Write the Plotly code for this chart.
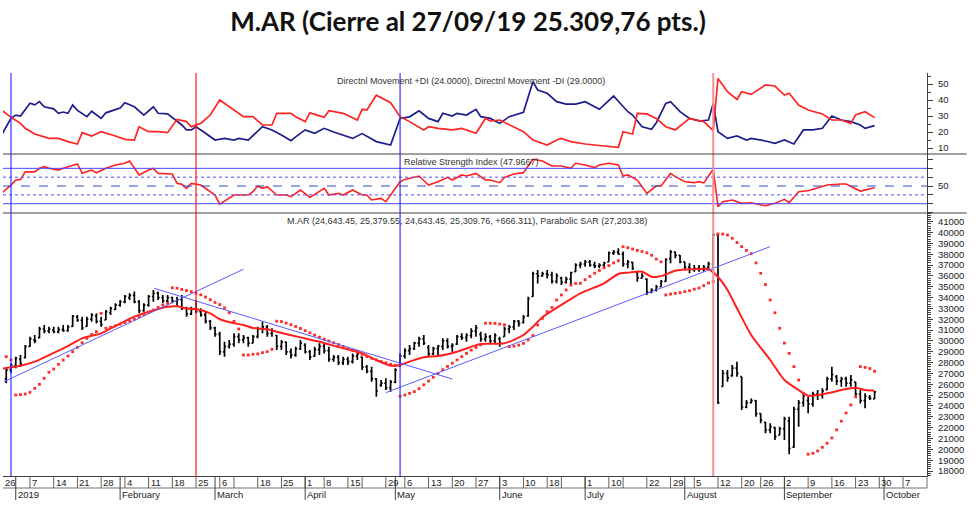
import plotly.graph_objects as go

# ---------------- DATA ----------------
# trading-day index 0 = 26 Dec 2018 ... 184 = 27 Sep 2019
open_ = [26800,26500,27300,27700,28300,28450,29500,30100,30300,31100,30900,31000,30850,31050,30950,31350,32200,31900,31350,32000,
         32300,31800,31950,32600,32900,33300,33600,34000,34200,33600,32800,33300,34100,34400,34000,33700,34000,33700,33800,33000,
         32500,32900,32700,32400,31800,31200,30600,29000,29500,29700,30400,30100,30300,29800,30400,31100,31300,30700,30500,29500,
         29900,29000,28700,29300,29600,29000,28600,29200,29500,29100,28300,28500,28000,28300,28100,28600,28500,27600,27200,26500,
         25900,26100,25700,26200,27700,28600,29100,29300,29800,30200,29400,28800,29300,29500,30000,29500,29700,30400,30300,30500,
         30900,30600,30200,30400,30000,30200,30400,31100,31300,31800,31700,32300,34100,36200,36000,36200,36100,35500,35800,35400,
         35700,36400,37000,37100,37300,37000,36900,37000,37300,38100,38200,38000,37100,37250,36300,35800,35700,34500,34700,35000,
         35500,37600,38200,37900,37300,36800,36600,36700,36600,36800,37100,39800,25800,27000,26800,27500,26700,23900,24300,24500,
         23300,22500,21800,22000,21300,21900,22600,20200,23700,24300,24500,24200,25100,25000,25500,26500,26700,26300,26500,26100,
         26200,25100,24500,24800,24643.45]
high = [27200,27470,27935,28550,28700,29620,30390,30550,31310,31470,31310,31310,31300,31470,31470,32390,32390,32240,32240,32550,
        32550,32240,32850,33160,33470,33780,34240,34390,34550,33780,33470,34240,34700,34550,34240,34240,34080,34080,34240,33160,
        33160,33780,33010,32700,31930,31310,30850,29930,30080,30700,30700,30550,30390,30550,31310,31780,31470,31160,30550,30080,
        29930,29310,29470,30080,29780,29160,29470,29780,29780,29470,28700,28700,28550,28550,28850,29160,28550,27780,27620,26550,
        26390,26550,26390,27470,28850,29320,29620,29930,30390,30550,29620,29470,29620,30240,30240,29780,30550,30700,30700,31160,
        31470,30850,30700,30550,30700,30390,31310,31470,31930,31930,32390,34080,36390,36540,36390,36540,36390,36240,35930,35930,
        36390,37160,37310,37470,37470,37310,37160,37310,38240,38390,38540,38240,37470,37310,36390,36240,35780,34850,35160,35620,
        37620,38390,38240,37930,37310,37160,37010,37010,37010,37310,39930,39930,27320,27320,27780,28090,26700,24550,24700,24550,
        23320,22550,22400,22090,22090,23010,23010,23930,24550,25170,24860,25320,25470,25630,26700,27620,26860,26700,26700,26860,
        26240,25470,25170,25010,25379.55]
low = [26400,26090,27010,27470,27630,28400,29470,29780,30240,30700,30700,30700,30700,30850,30850,31310,31780,31010,31310,31780,
       31620,31310,31930,32390,32850,33160,33470,33780,33470,32550,32700,33160,33620,33780,33470,33470,33470,33160,32850,32240,
       32390,32550,32240,31620,31010,30390,28700,28550,29310,29470,29780,29780,29470,29780,30240,30700,30390,30390,29160,29160,
       28700,28390,28550,29160,28850,28240,28550,28700,28850,28080,28080,27780,27780,27780,27930,28240,27320,27010,26240,24860,
       25780,25470,25320,26090,27620,28390,28700,29160,29470,29620,28550,28700,28700,29160,29310,29010,29620,30080,29930,30240,
       30390,29930,29930,29780,29780,29470,30390,30700,31010,31310,31620,32240,34080,35310,35930,35770,35310,35310,35160,35310,
       35160,36390,36700,36850,36850,36700,36700,36700,37310,37930,37930,36850,36700,36540,35470,35780,34240,34390,34550,35010,
       35470,37160,37620,37160,36550,36240,36390,36390,36390,36550,36550,24180,25780,26240,26700,26700,23630,23780,24240,23010,
       22400,21480,21480,20860,21320,20860,19550,20130,22090,23940,23320,23940,24550,24700,25470,26240,25940,25780,25780,25780,
       24950,24240,23780,24550,24643.45]
close = [26600,27300,27800,28400,27900,29500,30200,30000,31100,30900,31100,30850,31050,30950,31300,32300,31900,31200,32000,32400,
         31800,31500,32700,33000,33300,33600,34100,34200,33600,32800,33300,34100,34400,34000,33700,34000,33700,33800,33000,32500,
         32900,32700,32400,31800,31200,30600,29000,29500,29700,30400,30100,30300,29800,30400,31100,31300,30700,30900,29500,29900,
         29000,28700,29300,29800,29000,28500,29200,29500,29100,28300,28500,28000,28300,28100,28600,28800,27600,27200,26500,25400,
         26100,25700,26200,27300,28600,29100,29300,29800,30200,29800,28800,29300,29500,30000,29500,29600,30400,30300,30500,30900,
         31200,30200,30400,30000,30500,29800,31100,31300,31800,31600,32200,33900,36200,36000,36200,36100,35500,36000,35400,35700,
         36300,37000,37100,37300,37000,36900,37000,37200,38100,38200,38000,37100,37300,36700,35800,36000,34500,34700,35000,35500,
         37500,38200,37900,37300,36800,36600,36700,36600,36800,37100,39800,24300,27000,26600,27500,27000,23900,24300,24500,23300,
         22700,21800,22100,21200,21900,22800,20100,23700,24300,24900,24200,25100,25000,25400,26500,26900,26300,26500,26100,26400,
         25100,24500,24900,24700,25309.76]

sar = [28700,28550,28240,25010,25050,25100,25260,25630,26000,26550,27110,27410,27840,28240,28610,29010,29410,29840,30240,30600,
       30850,32550,31170,31260,31400,31550,31700,31850,32000,32250,32450,32650,32850,33100,33300,33470,34900,34860,34750,34650,
       34550,34400,34250,34050,33800,33550,33350,33050,32600,31800,31100,28700,28700,28770,28800,28920,29010,29230,31820,31790,
       31650,31500,31330,31150,30950,30750,30550,30350,30170,29990,29830,29660,29480,29300,29130,28960,28760,28560,28400,28250,
       28100,27980,27850,27750,24900,25010,25170,25330,25600,25950,26300,26650,27000,27350,27650,27950,28250,28550,28850,29150,
       29400,29650,31630,31630,31620,31560,31480,29470,29520,29620,29780,30090,30500,31470,32090,32700,33090,33780,34240,34700,
       35150,35300,35320,35650,35950,36250,36500,36750,36950,37200,37400,38690,38600,38480,38350,38250,38130,37900,37550,37300,
       34240,34330,34390,34450,34550,34640,34780,34880,35100,35350,35470,39870,39860,39770,39470,39080,38700,38350,38050,37200,
       36240,35200,33780,32600,31170,29800,28850,27630,26400,25170,19550,19640,19850,20190,20560,21050,21800,22600,23350,24100,
       24850,27630,27560,27450,27203.38]

ma_idx = [0,4,7,10,14,17,21,24,28,31,35,37,39,41,44,46,49,51,53,56,58,63,67,72,76,79,82,84,86,89,92,96,101,106,110,112,114,
          118,122,127,130,132,135,137,139,142,146,149,151,153,155,158,162,165,168,170,174,177,180,182,184]
ma_val = [27450,27720,28090,28700,29530,30240,30700,31380,32240,32700,33160,33200,33000,32950,32550,32000,31630,31470,31200,
          31070,30850,30330,29930,29320,28860,28240,27720,27780,28090,28490,28610,29010,29720,29780,30550,31310,32180,33320,
          34390,35320,36180,36300,36390,35930,35980,36480,36610,36610,35900,34700,33010,30550,28240,26400,25470,24950,25170,
          25470,25690,25470,25410]

pdi_idx = [0,2,3,4,6,7,8,9,11,12,13,14,15,16,18,19,21,22,24,25,26,28,30,32,33,35,38,39,40,41,43,45,47,49,50,52,55,57,59,61,
           62,64,66,68,70,72,74,76,79,82,84,86,88,90,92,93,95,96,98,100,101,103,105,107,110,112,113,115,117,119,121,123,126,
           129,132,133,135,137,138,140,141,143,145,147,149,150,151,153,155,157,158,161,163,165,167,169,171,173,175,177,179,
           181,182,184]
pdi_val = [18,28.5,30.6,30,38,37,39,35.8,34.5,31.7,32.5,31.7,36.9,33.5,29.6,33,28.5,32,34,35,38.3,35.8,30.6,35.8,31.7,31.3,
           24.4,21.3,21.3,23.3,19.2,15,16,15,16,15,23.3,21.3,18.1,14.6,17,21.3,19.2,22.3,20,18.1,16,19,14,11.9,28.5,29.5,33.3,
           28.5,26.5,31.7,30,31.7,30.6,34.2,29.6,28.5,25.4,29.6,32.3,51.5,46.3,44.2,39,37.5,37.5,39,34.2,42.5,32.7,30.6,23.3,
           21.7,25.8,37.9,39,32.7,28.5,26.9,27.5,37.9,20.2,16,17.5,15,16,14.4,12.9,15,12.5,21.3,21.3,22.3,30,27.5,26.5,24.4,
           22.3,24.0]

mdi_idx = [0,2,4,5,7,10,12,14,16,17,19,21,24,26,28,29,31,33,35,37,39,40,42,44,46,49,51,53,55,57,58,61,62,64,65,68,69,72,75,
           76,77,79,82,84,86,89,90,92,95,97,100,102,103,105,108,110,112,115,117,118,120,123,127,130,131,133,134,136,138,140,
           142,145,148,150,151,153,155,156,158,161,163,165,166,168,170,173,175,177,179,180,182,184]
mdi_val = [33.75,29.2,25.4,22.3,18.75,16,16,14,12.5,19.6,17.5,20.2,17.5,15.4,15,23.3,20.2,20.2,19.6,27.9,26.5,23.3,25.4,30.6,
           40,33.75,29.6,29.6,24.4,24.4,31.7,31.7,29.6,26.5,32,29.2,33.3,31.7,27.5,34.2,33.75,43,38.3,29.6,26.5,21.3,23.3,22.3,
           21.3,22.3,19.2,28.5,26.9,27.5,23.3,20.2,15,11.9,15,16,14,12.5,11.25,10.4,20.2,18.75,31.7,31.3,28.5,23.3,21.3,28.5,
           26.5,20.8,53.5,45.2,40.4,45.2,43.5,49.4,48.75,43.1,44.2,36.9,33.75,31.3,27.5,27.5,25.4,30.6,32.7,29.0]

rsi_idx = [0,2,3,4,5,7,8,9,10,12,13,15,16,17,19,20,22,24,26,27,29,31,32,33,36,37,38,39,40,42,43,45,46,48,49,50,52,53,54,55,
           56,58,60,61,63,65,68,69,71,72,74,76,77,78,80,81,84,85,88,90,92,94,95,97,98,100,102,103,105,106,108,110,112,113,114,
           116,118,120,121,123,125,126,128,130,131,132,134,136,138,139,141,142,144,146,147,148,150,151,152,154,156,158,161,
           163,165,166,168,170,172,174,177,178,181,183,184]
rsi_val = [41.7,51,56.8,57.5,66,66,70,71.9,70,68,70,73.8,74.9,64.3,68,65,70,73.8,75.7,78.3,62.5,68,70,64.3,63.6,53,51.9,47.4,
           53,51.1,47.4,39.8,29.6,36,39.8,39.8,39.8,43.6,50,47.4,49.2,39.8,39.8,37.9,45.5,37.2,47.4,39.8,41.7,39.8,45.5,39.8,
           39.8,34.2,36,32.3,54.9,57.5,61.3,51.1,54.9,59.8,56.8,62.5,61.3,64.3,56.8,56.8,53.8,59.8,63.6,65.1,80.2,79.4,78.3,
           72.6,72.6,70,75.7,73.8,70.8,73.8,75.7,73.8,61.3,62.5,56.8,41.7,50,50,64.3,60.6,54.9,53.8,54.9,53.5,68.9,26.6,32.3,
           34.2,30.4,31.1,27.7,30.4,34.9,31.1,43.6,44.7,48.1,51.1,52.3,52.3,44.3,46.2,47.9667]

# trend lines (index, price) end points
tl1_x, tl1_y = [0.53, 50.96], [26240, 36609]
tl2_x, tl2_y = [32.2, 95.0], [34856, 26489]
tl3_x, tl3_y = [80.97, 161.96], [25225, 38694]

# vertical markers (index)
vlines_blue = [2, 84]
vlines_red = [41]
vlines_pink = [150]

# date labels
week_idx = [0,6,11,16,21,26,31,36,41,46,49,54,59,64,68,73,76,81,85,90,95,100,105,110,115,118,123,128,131,136,141,146,151,
            156,160,165,170,175,180,185,190]
week_lab = ['26','7','14','21','28','4','11','18','25','6','','18','25','1','8','15','','29','6','13','20','27','3','10','18',
            '','1','10','','22','29','5','12','20','26','2','9','16','23','30','7']
month_idx = [3,25,45,64,83,105,123,144,165,186]
month_lab = ['2019','February','March','April','May','June','July','August','September','October']

rsi_solid = [70, 30]
rsi_dot = [60, 40]
rsi_mid = [50]

# ---------------- FIGURE ----------------
FONT = 'Liberation Sans, Arial, sans-serif'
x = list(range(len(close)))
fig = go.Figure()

fig.add_trace(go.Ohlc(x=x, open=open_, high=high, low=low, close=close, xaxis='x', yaxis='y',
                      increasing=dict(line=dict(color='black', width=1.7)),
                      decreasing=dict(line=dict(color='black', width=1.7)),
                      tickwidth=0.32, showlegend=False, hoverinfo='skip'))
fig.add_trace(go.Scatter(x=ma_idx, y=ma_val, mode='lines', yaxis='y',
                         line=dict(color='#ff1f1f', width=2, shape='spline', smoothing=0.7), hoverinfo='skip'))
fig.add_trace(go.Scatter(x=x, y=sar, mode='markers', yaxis='y',
                         marker=dict(color='#ff2a2a', size=2.8, symbol='square', line=dict(width=0)), hoverinfo='skip'))
for tx, ty in [(tl1_x, tl1_y), (tl2_x, tl2_y), (tl3_x, tl3_y)]:
    fig.add_trace(go.Scatter(x=tx, y=ty, mode='lines', yaxis='y',
                             line=dict(color='#5b5bff', width=1), hoverinfo='skip'))

fig.add_trace(go.Scatter(x=rsi_idx, y=rsi_val, mode='lines', yaxis='y2',
                         line=dict(color='#ff2020', width=1.6), hoverinfo='skip'))
fig.add_trace(go.Scatter(x=pdi_idx, y=pdi_val, mode='lines', yaxis='y3',
                         line=dict(color='#1c1c8c', width=1.7), hoverinfo='skip'))
fig.add_trace(go.Scatter(x=mdi_idx, y=mdi_val, mode='lines', yaxis='y3',
                         line=dict(color='#ff2424', width=1.7), hoverinfo='skip'))

shapes = []
# RSI guide lines
for v in rsi_solid:
    shapes.append(dict(type='line', xref='paper', yref='y2', x0=0, x1=1, y0=v, y1=v, line=dict(color='#4646ff', width=1)))
for v in rsi_dot:
    shapes.append(dict(type='line', xref='paper', yref='y2', x0=0, x1=1, y0=v, y1=v, line=dict(color='#5050ff', width=1, dash='dot')))
for v in rsi_mid:
    shapes.append(dict(type='line', xref='paper', yref='y2', x0=0, x1=1, y0=v, y1=v, line=dict(color='#3048c8', width=1, dash='dash')))
# vertical markers
for v in vlines_blue:
    shapes.append(dict(type='line', xref='x', yref='paper', x0=v, x1=v, y0=0, y1=1, line=dict(color='#3434ff', width=1.2)))
for v in vlines_red:
    shapes.append(dict(type='line', xref='x', yref='paper', x0=v, x1=v, y0=0, y1=1, line=dict(color='#ff1a1a', width=1.2)))
for v in vlines_pink:
    shapes.append(dict(type='line', xref='x', yref='paper', x0=v, x1=v, y0=0, y1=1, line=dict(color='#f49090', width=2)))
# panel separators
D1, D2 = 0.6526, 0.799
for yy in (D1, D2):
    shapes.append(dict(type='line', xref='paper', yref='paper', x0=0, x1=1.043, y0=yy, y1=yy, line=dict(color='#404040', width=1)))
# date rows
ROW = -0.0298
MROW = -0.0596
shapes.append(dict(type='line', xref='paper', yref='paper', x0=0, x1=1, y0=ROW, y1=ROW, line=dict(color='#707070', width=1)))
shapes.append(dict(type='line', xref='paper', yref='paper', x0=1, x1=1, y0=0, y1=ROW, line=dict(color='#707070', width=1)))
for v in week_idx[1:]:
    shapes.append(dict(type='line', xref='x', yref='paper', x0=v, x1=v, y0=0, y1=ROW, line=dict(color='#606060', width=1)))
for v in month_idx:
    shapes.append(dict(type='line', xref='x', yref='paper', x0=v, x1=v, y0=0, y1=MROW, line=dict(color='#404040', width=1)))

ann = []
for v, t in zip(week_idx, week_lab):
    if not t:
        continue
    if v == 0:
        ann.append(dict(xref='paper', x=0, y=ROW / 2, yref='paper', text=t, showarrow=False, xanchor='left', xshift=0,
                        yanchor='middle', font=dict(family=FONT, size=9.5, color='#222')))
    else:
        ann.append(dict(xref='x', x=v, y=ROW / 2, yref='paper', text=t, showarrow=False, xanchor='left', xshift=0,
                        yanchor='middle', font=dict(family=FONT, size=9.5, color='#222')))
for v, t in zip(month_idx, month_lab):
    ann.append(dict(xref='x', x=v, y=(ROW + MROW) / 2, yref='paper', text=t, showarrow=False, xanchor='left', xshift=0,
                    yanchor='middle', font=dict(family=FONT, size=9.5, color='#222')))
ann.append(dict(xref='paper', yref='paper', x=0.5065, y=0.981, text='Directnl Movement +DI (24.0000), Directnl Movement -DI (29.0000)',
                showarrow=False, xanchor='center', yanchor='middle', font=dict(family=FONT, size=9, color='#333')))
ann.append(dict(xref='paper', yref='paper', x=0.5065, y=0.780, text='Relative Strength Index (47.9667)',
                showarrow=False, xanchor='center', yanchor='middle', font=dict(family=FONT, size=9, color='#333')))
ann.append(dict(xref='paper', yref='paper', x=0.5022, y=0.6335,
                text='M.AR (24,643.45, 25,379.55, 24,643.45, 25,309.76, +666.311), Parabolic SAR (27,203.38)',
                showarrow=False, xanchor='center', yanchor='middle', font=dict(family=FONT, size=9, color='#333')))

yax_common = dict(side='right', anchor='x', showgrid=False, zeroline=False, showline=True, linecolor='#404040', linewidth=1,
                  ticks='outside', ticklen=5, tickcolor='#404040', tickfont=dict(family=FONT, size=9.5, color='#222'),
                  ticklabelstandoff=3, fixedrange=True)

fig.update_layout(
    width=980, height=511,
    margin=dict(l=3, r=53, t=73, b=35),
    paper_bgcolor='white', plot_bgcolor='white', showlegend=False,
    title=dict(text='<b>M.AR (Cierre al 27/09/19 25.309,76 pts.)</b>', x=0.4776, xanchor='center', y=0.957, yanchor='middle',
               font=dict(family='Lato, Carlito, Calibri, sans-serif', size=26, color='#111')),
    xaxis=dict(range=[0.316, 195.05], showgrid=False, zeroline=False, showticklabels=False, ticks='', showline=True,
               linecolor='#404040', linewidth=1, rangeslider=dict(visible=False), anchor='y', fixedrange=True),
    yaxis=dict(domain=[0, D1], range=[17541, 41803], tickmode='linear', tick0=0, dtick=1000, tickformat='d',
               minor=dict(dtick=200, ticklen=3, ticks='outside', tickcolor='#404040', showgrid=False), **yax_common),
    yaxis2=dict(domain=[D1, D2], range=[19.5, 86.2], tickmode='array', tickvals=[20, 30, 40, 50, 60, 70, 80],
                ticktext=['', '', '', '50', '', '', ''], **yax_common),
    yaxis3=dict(domain=[D2, 1], range=[6.25, 56.9], tickmode='linear', tick0=0, dtick=10,
                minor=dict(dtick=5, ticklen=3, ticks='outside', tickcolor='#404040', showgrid=False), **yax_common),
    shapes=shapes, annotations=ann,
)

fig.write_html('out.html', config={'displayModeBar': False},
               post_script="document.body.style.margin='0px';")
